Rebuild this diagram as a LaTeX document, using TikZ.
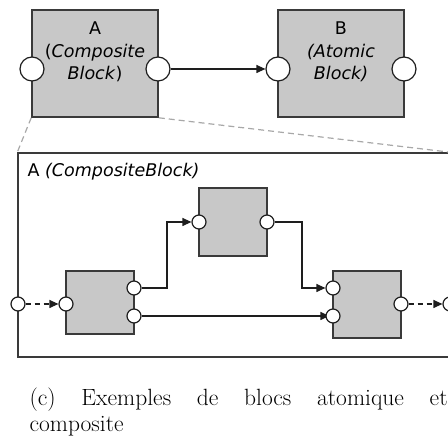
\documentclass[tikz,border=0pt]{standalone}
\usepackage{fontspec}
\setsansfont{DejaVu Sans}
\usetikzlibrary{arrows.meta, calc, backgrounds}
\definecolor{cfill}{HTML}{C8C8C8}
\definecolor{cedge}{HTML}{3A3A3A}
\definecolor{cport}{HTML}{1E1E1E}
\definecolor{czoom}{HTML}{A8A8A8}
\tikzset{
  every picture/.style={x=1pt, y=1pt, line width=1.2pt},
  block/.style={draw=cedge, fill=cfill, line width=1.6pt, inner sep=0pt},
  frame/.style={draw=cedge, line width=1.4pt, inner sep=0pt},
  port/.style={circle, draw=cport, fill=white, line width=1.2pt, inner sep=0pt, minimum size=#1},
  port/.default=14pt,
  flow/.style={-{Triangle[length=9pt, width=8pt]}, draw=cport, line width=1.2pt},
  link/.style={flow, dash pattern=on 5pt off 4pt},
  zoomline/.style={draw=czoom, line width=1.2pt, dash pattern=on 6pt off 4pt},
  label/.style={font=\sffamily\fontsize{17.5}{22.5}\selectfont, align=center, inner sep=0pt},
  caption/.style={font=\fontsize{23.5}{26}\selectfont, text width=418pt, align=justify, inner sep=0pt},
}

\begin{document}
\begin{tikzpicture}
  \useasboundingbox (0,0) rectangle (448,438);
  \clip (0,0) rectangle (448,438);
  % ---- top: A and B ----
  \node[block, minimum width=126pt, minimum height=107pt] (blkA) at (95,374.5) {};
  \node[block, minimum width=126pt, minimum height=107pt] (blkB) at (341,374.5) {};
  \node[label, anchor=base] (txtA) at (95,358) {A\\(\textit{Composite}\\\textit{Block})};
  \node[label, anchor=base] (txtB) at (341,358) {B\\\textit{(Atomic}\\\textit{Block)}};
  \node[port=24pt] (pAin) at (32,369) {};
  \node[port=24pt] (pAout) at (158,369) {};
  \node[port=24pt] (pBin) at (278,369) {};
  \node[port=24pt] (pBout) at (404,369) {};
  \draw[flow] (pAout) -- (pBin);
  % ---- bottom: inside of A ----
  \node[frame, minimum width=432pt, minimum height=204pt] (frm) at (234,183) {};
  \draw[zoomline] (blkA.south west) -- (frm.north west);
  \draw[zoomline] (blkA.south east) -- (frm.north east);
  \node[label, anchor=base west] (txtF) at (27,261) {A \textit{(CompositeBlock)}};
  \node[block, minimum width=68pt, minimum height=63pt] (blk1) at (100,135.5) {};
  \node[block, minimum width=68pt, minimum height=68pt] (blk2) at (233,216) {};
  \node[block, minimum width=68pt, minimum height=67pt] (blk3) at (367,133.5) {};
  \node[port] (pFin) at (18,134) {};
  \node[port] (p1in) at (66,134) {};
  \node[port] (p1o1) at (134,150) {};
  \node[port] (p1o2) at (134,122) {};
  \node[port] (p2in) at (199,216) {};
  \node[port] (p2out) at (267,216) {};
  \node[port] (p3i1) at (333,150) {};
  \node[port] (p3i2) at (333,122) {};
  \node[port] (p3out) at (401,134) {};
  \node[port] (pFout) at (450,134) {};
  \begin{scope}[on background layer]
  \draw[link] (pFin) -- (p1in);
  \draw[flow] (p1o1) -- ++(33,0) |- (p2in);
  \draw[flow] (p2out) -- ++(35,0) |- (p3i1);
  \draw[flow, shorten >=-4pt] (p1o2) -- (p3i2);
  \draw[link] (p3out) -- (pFout);
  \end{scope}
  % ---- caption ----
  \node[caption, anchor=base west] (cap) at (29,32) {(c) Exemples de blocs atomique et\linebreak composite};
\end{tikzpicture}
\end{document}
